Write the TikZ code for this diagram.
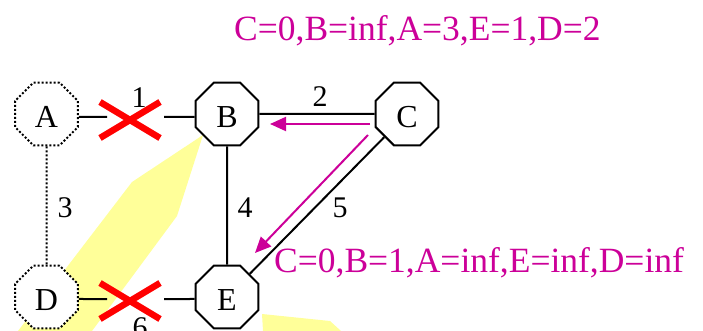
\documentclass[tikz,border=0pt]{standalone}
\usepackage{fontspec}
\setmainfont{Liberation Serif}
\usetikzlibrary{shapes.geometric,arrows.meta}
\definecolor{mag}{HTML}{CC0099}
\definecolor{pale}{HTML}{FFFF99}
\definecolor{xred}{HTML}{FF0000}
\tikzset{
  router/.style={regular polygon, regular polygon sides=8, minimum size=68pt,
    inner sep=0pt, draw=black, line width=2pt, fill=white,
    text height=27pt, text depth=0pt, font=\fontsize{32}{36}\selectfont},
  downrouter/.style={router, dash pattern=on 2pt off 2pt},
  link/.style={line width=2pt, draw=black},
  downlink/.style={link, dash pattern=on 2pt off 2pt},
  cost/.style={anchor=base, inner sep=0pt, font=\fontsize{30}{36}\selectfont},
  cross/.style={line width=6.5pt, draw=xred},
  route/.style={line width=2pt, draw=mag, -{Triangle[length=16pt,width=14pt]}},
  table/.style={anchor=base west, inner sep=0pt, text=mag, font=\fontsize{35.5}{40}\selectfont},
  shade/.style={fill=pale, draw=none}
}
\begin{document}
\begin{tikzpicture}[x=1pt,y=-1pt]
\useasboundingbox (0,0) rectangle (703,331);
\clip (0,0) rectangle (703,331);
% yellow background shapes
\fill[shade] (203,135) -- (132,182) -- (18,331) -- (92,331) -- (177,216) -- cycle;
\fill[shade] (262,314) -- (330,321) -- (341,331) -- (263,331) -- cycle;
% nodes
\node[downrouter] (A) at (46.5,114) {A};
\node[router] (B) at (227,114) {B};
\node[router] (C) at (407,114) {C};
\node[downrouter] (D) at (46.5,297) {D};
\node[router] (E) at (227,297) {E};
% broken links
\coordinate (x1l) at (107,117);
\coordinate (x1r) at (164,117);
\coordinate (x2l) at (107,299);
\coordinate (x2r) at (164,299);
\draw[link] ([yshift=-3pt]A.east) -- (x1l);
\draw[link] (x1r) -- ([yshift=-3pt]B.west);
\draw[link] ([yshift=-2pt]D.east) -- (x2l);
\draw[link] (x2r) -- ([yshift=-2pt]E.west);
% other links
\draw[downlink] (A) -- (D);
\draw[link] (B) -- (E);
\draw[link] (B) -- (C);
\draw[link] (C) -- (E);
% crosses
\coordinate (c1a) at (100,102); \coordinate (c1b) at (160,138);
\coordinate (c1c) at (160,102); \coordinate (c1d) at (100,138);
\draw[cross] (c1a) -- (c1b);
\draw[cross] (c1c) -- (c1d);
\coordinate (c2a) at (100,283); \coordinate (c2b) at (160,319);
\coordinate (c2c) at (160,283); \coordinate (c2d) at (100,319);
\draw[cross] (c2a) -- (c2b);
\draw[cross] (c2c) -- (c2d);
% costs
\node[cost] (l1) at (139,107.5) {1};
\node[cost] (l2) at (320,107) {2};
\node[cost] (l3) at (65,217) {3};
\node[cost] (l4) at (245,217) {4};
\node[cost] (l5) at (340,217) {5};
\node[cost] (l6) at (140,337) {6};
% routes
\coordinate (rb1) at (370,124);
\coordinate (rb2) at (270,124);
\coordinate (re1) at (368,135);
\coordinate (re2) at (255,253);
\draw[route] (rb1) -- (rb2);
\draw[route] (re1) -- (re2);
% tables
\node[table] (t1) at (234,41) {C=0,B=inf,A=3,E=1,D=2};
\node[table] (t2) at (274,272) {C=0,B=1,A=inf,E=inf,D=inf};
\end{tikzpicture}
\end{document}
